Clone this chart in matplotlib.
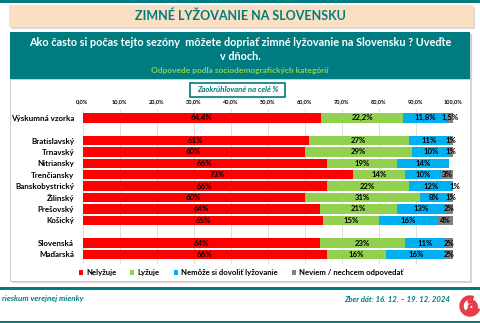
import matplotlib.pyplot as plt
from matplotlib.patches import Rectangle, Wedge
import numpy as np

# survey data, % per group
categories = ['Výskumná vzorka', 'Bratislavský', 'Trnavský', 'Nitriansky', 'Trenčiansky',
              'Banskobystrický', 'Žilinský', 'Prešovský', 'Košický', 'Slovenská', 'Maďarská']
row_pos = [0, 2, 3, 4, 5, 6, 7, 8, 9, 11, 12]
nelyzuje = [64.4, 61, 60, 66, 73, 66, 60, 64, 65, 64, 66]
lyzuje = [22.2, 27, 29, 19, 14, 22, 31, 21, 15, 23, 16]
nemoze = [11.8, 11, 10, 14, 10, 12, 8, 13, 16, 11, 16]
neviem = [1.5, 1, 1, 0, 3, 1, 1, 2, 4, 2, 2]
series = [nelyzuje, lyzuje, nemoze, neviem]
series_names = ['Nelyžuje', 'Lyžuje', 'Nemôže si dovoliť lyžovanie', 'Neviem / nechcem odpovedať']
colors = ['#FF0000', '#92D050', '#00B0F0', '#808080']
ticks = np.arange(0, 101, 10)

W, H = 480, 323
teal = '#007B7F'
plt.rcParams['font.family'] = ['Lato', 'DejaVu Sans']


def fx(x):
    return x / W


def fy(y):
    return 1 - y / H


fig = plt.figure(figsize=(4.8, 3.23), dpi=100)
fig.patch.set_facecolor('white')

def rect(x0, y0, x1, y1, **kw):
    fig.add_artist(Rectangle((fx(x0), fy(y1)), fx(x1) - fx(x0), fy(y0) - fy(y1),
                             transform=fig.transFigure, zorder=-5, **kw))

# header and frames
rect(0, 0, 480, 2.5, color=teal, lw=0)
rect(11, 7, 475, 29, color='#d9d9d9', lw=0)
rect(9, 5, 473, 27, color='#FADFC3', lw=0)
fig.text(fx(240), fy(16), 'ZIMNÉ LYŽOVANIE NA SLOVENSKU', ha='center', va='center',
         fontsize=9, fontweight='bold', color=teal)
rect(12, 34, 472, 81, color='#d0d0d0', lw=0)
rect(10, 32, 470, 79, color=teal, lw=0)
fig.text(fx(240), fy(42.5), 'Ako často si počas tejto sezóny  môžete dopriať zimné lyžovanie na Slovensku ? Uveďte',
         ha='center', va='center', fontsize=7.8, fontweight='bold', color='white')
fig.text(fx(240), fy(56.5), 'v dňoch.', ha='center', va='center', fontsize=7.8,
         fontweight='bold', color='white')
fig.text(fx(240), fy(71), 'Odpovede podľa sociodemografických kategórií', ha='center', va='center',
         fontsize=6.0, fontweight='bold', color='#92D050')
rect(12, 81, 472, 283, color='#d9d9d9', lw=0)
rect(10, 79, 470, 281, facecolor='white', edgecolor='#c8c8c8', lw=0.6)
rect(190, 83, 285, 97, facecolor='white', edgecolor=teal, lw=1.2)
fig.text(fx(237.5), fy(90), 'Zaokrúhľované na celé %', ha='center', va='center',
         fontsize=5.6, fontweight='bold', style='italic', color=teal)

# stacked bars
ax = fig.add_axes([fx(82.5), fy(263.6), fx(453) - fx(82.5), fy(108.6) - fy(263.6)])
ax.patch.set_alpha(0)
left = np.zeros(len(categories))
for vals, col, name in zip(series, colors, series_names):
    vals = np.array(vals, dtype=float)
    ax.barh(row_pos, vals, left=left, height=0.84, color=col, label=name, zorder=2)
    for y, l, v in zip(row_pos, left, vals):
        if v <= 0:
            continue
        txt = ('%.1f%%' % v).replace('.', ',') if y == 0 else '%d%%' % v
        ax.text(l + v / 2, y, txt, ha='center', va='center', fontsize=5.6,
                fontweight='bold', color='black', zorder=3)
    left += vals

ax.set_xlim(0, 100)
ax.set_ylim(12.8, -0.8)
ax.set_xticks(ticks)
ax.set_xticklabels([('%.1f%%' % t).replace('.', ',') for t in ticks], fontsize=4.0, fontweight='bold')
ax.xaxis.tick_top()
ax.tick_params(axis='x', length=0, pad=3)
ax.set_yticks(row_pos)
ax.set_yticklabels(categories, fontsize=5.8, fontweight='bold')
ax.tick_params(axis='y', length=0, pad=6)
ax.grid(axis='x', color='#d9d9d9', lw=0.6, zorder=0)
for s in ax.spines.values():
    s.set_visible(False)

leg = fig.legend(loc='center', bbox_to_anchor=(fx(241), fy(272.5)), ncol=4, frameon=False,
                 handlelength=0.55, handleheight=0.55, handletextpad=0.4,
                 columnspacing=1.8, prop={'weight': 'bold', 'size': 5.6})

# footer
rect(0, 287, 480, 289.5, color=teal, lw=0)
rect(0, 320.5, 480, 323, color=teal, lw=0)
fig.text(fx(2), fy(299), 'rieskum verejnej mienky', ha='left', va='center', fontsize=5.8,
         style='italic', fontweight='bold', color=teal)
fig.text(fx(450), fy(299), 'Zber dát: 16. 12. – 19. 12. 2024', ha='right', va='center',
         fontsize=5.6, style='italic', fontweight='bold', color=teal)

# logo swirl
lax = fig.add_axes([fx(459), fy(318), fx(22), fy(0) - fy(24)])
lax.set_xlim(-1.1, 1.1)
lax.set_ylim(-1.1, 1.1)
lax.set_aspect('equal')
lax.axis('off')
red = '#E53B4B'
lax.add_patch(Wedge((0, 0), 1.0, 70, 340, width=0.3, color=red))
lax.add_patch(Wedge((0.1, -0.05), 0.62, 220, 120, width=0.24, color=red))
lax.add_patch(Wedge((0.14, -0.1), 0.3, 0, 360, width=0.13, color=red))

fig.savefig('out.png', dpi=100)
